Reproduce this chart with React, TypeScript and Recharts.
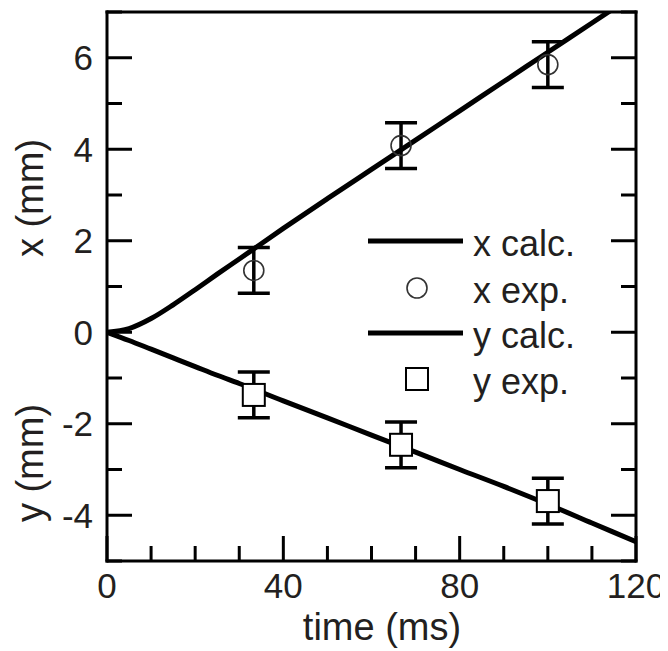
import {
  ComposedChart,
  Line,
  Scatter,
  ErrorBar,
  XAxis,
  YAxis,
  Legend,
  Label
} from 'recharts';

// calculated curves
const tCalc = [0, 5, 10, 15, 20, 25, 30, 40, 50, 60, 70, 80, 90, 100, 110, 120];
const xCalc = [0, 0.08, 0.3, 0.6, 0.93, 1.27, 1.6, 2.27, 2.92, 3.56, 4.2, 4.84, 5.48, 6.12, 6.76, 7.4];
const yCalc = [0, -0.18, -0.37, -0.56, -0.75, -0.94, -1.12, -1.5, -1.87, -2.25, -2.62, -3.0, -3.37, -3.76, -4.17, -4.58];

// measured points (error +/- 0.5 mm)
const tExp = [33.3, 66.7, 100];
const xExp = [1.35, 4.08, 5.85];
const yExp = [-1.37, -2.46, -3.69];
const expErr = [0.5, 0.5, 0.5];

const xTicks = [0, 10, 20, 30, 40, 50, 60, 70, 80, 90, 100, 110, 120];
const xLabels = [0, 40, 80, 120];
const yTicks = [-5, -4, -3, -2, -1, 0, 1, 2, 3, 4, 5, 6, 7];
const yLabels = [-4, -2, 0, 2, 4, 6];

const legendItems = ['x calc.', 'x exp.', 'y calc.', 'y exp.'];

const xCalcData = tCalc.map((t, i) => ({ t, v: xCalc[i] }));
const yCalcData = tCalc.map((t, i) => ({ t, v: yCalc[i] }));
const xExpData = tExp.map((t, i) => ({ t, v: xExp[i], err: expErr[i] }));
const yExpData = tExp.map((t, i) => ({ t, v: yExp[i], err: expErr[i] }));

const FONT = '"Liberation Sans", Arial, Helvetica, sans-serif';
const TEXT = '#231f20';
const MAJOR = 25;
const MINOR = 15;
const TICK_FONT = 35;
const TITLE_FONT = 38;

const BottomTick = (props: any) => {
  const { x, y, payload } = props;
  const major = xLabels.includes(payload.value);
  return (
    <g>
      <line x1={x} x2={x} y1={y} y2={y - (major ? MAJOR : MINOR)} stroke="#000" strokeWidth={3} />
      {major && (
        <text x={x} y={y + 37} textAnchor="middle" fontSize={TICK_FONT} fontFamily={FONT} fill={TEXT}>
          {payload.value}
        </text>
      )}
    </g>
  );
};

const TopTick = (props: any) => {
  const { x, y, payload } = props;
  const major = xLabels.includes(payload.value);
  return <line x1={x} x2={x} y1={y} y2={y + (major ? MAJOR : MINOR)} stroke="#000" strokeWidth={3} />;
};

const LeftTick = (props: any) => {
  const { x, y, payload } = props;
  const major = yLabels.includes(payload.value);
  return (
    <g>
      <line x1={x} x2={x + (major ? MAJOR : MINOR)} y1={y} y2={y} stroke="#000" strokeWidth={3} />
      {major && (
        <text x={x - 14} y={y} dy="0.36em" textAnchor="end" fontSize={TICK_FONT} fontFamily={FONT} fill={TEXT}>
          {payload.value}
        </text>
      )}
    </g>
  );
};

const RightTick = (props: any) => {
  const { x, y, payload } = props;
  const major = yLabels.includes(payload.value);
  return <line x1={x} x2={x - (major ? MAJOR : MINOR)} y1={y} y2={y} stroke="#000" strokeWidth={3} />;
};

const YTitles = () => (
  <g fontSize={TITLE_FONT} fontFamily={FONT} fill={TEXT}>
    <text x={35} y={190} textAnchor="middle" transform="rotate(-90 35 190)">x (mm)</text>
    <text x={35} y={455} textAnchor="middle" transform="rotate(-90 35 455)">y (mm)</text>
  </g>
);

const XTitle = () => (
  <text x={374} y={632} textAnchor="middle" fontSize={TITLE_FONT} fontFamily={FONT} fill={TEXT}>
    time (ms)
  </text>
);

const CircleDot = (props: any) => (
  <circle cx={props.cx} cy={props.cy} r={10} fill="none" stroke="#333" strokeWidth={1.6} />
);

const SquareDot = (props: any) => (
  <rect x={props.cx - 11} y={props.cy - 11} width={22} height={22} fill="#fff" stroke="#000" strokeWidth={2} />
);

const rowY = [28, 75, 120, 166];

const LegendBox = () => (
  <svg width={280} height={200} style={{ overflow: 'visible' }}>
    {legendItems.map((label, i) => (
      <g key={label}>
        {i % 2 === 0 && <line x1={10} x2={105} y1={rowY[i]} y2={rowY[i]} stroke="#000" strokeWidth={5} />}
        {i === 1 && <circle cx={59} cy={rowY[i]} r={10} fill="none" stroke="#333" strokeWidth={1.6} />}
        {i === 3 && <rect x={48} y={rowY[i] - 11} width={22} height={22} fill="#fff" stroke="#000" strokeWidth={2} />}
        <text x={115} y={rowY[i] + 15} fontSize={36} fontFamily={FONT} fill={TEXT}>
          {label}
        </text>
      </g>
    ))}
  </svg>
);

const axisLine = { stroke: '#000', strokeWidth: 3, strokeLinecap: 'square' as const };

export default function App() {
  return (
    <ComposedChart width={660} height={643} margin={{ top: 0, right: 0, bottom: 0, left: 0 }}>
      <XAxis
        dataKey="t"
        type="number"
        domain={[0, 120]}
        ticks={xTicks}
        interval={0}
        allowDataOverflow
        height={90}
        tickSize={0}
        tickMargin={0}
        tickLine={false}
        axisLine={axisLine}
        tick={BottomTick}
      >
        <Label content={XTitle} />
      </XAxis>
      <XAxis
        xAxisId="top"
        orientation="top"
        type="number"
        domain={[0, 120]}
        ticks={xTicks}
        interval={0}
        allowDataOverflow
        height={4}
        tickSize={0}
        tickMargin={0}
        tickLine={false}
        axisLine={axisLine}
        tick={TopTick}
      />
      <YAxis
        type="number"
        domain={[-5, 7]}
        ticks={yTicks}
        interval={0}
        allowDataOverflow
        width={99}
        tickSize={0}
        tickMargin={0}
        tickLine={false}
        axisLine={axisLine}
        tick={LeftTick}
      >
        <Label content={YTitles} />
      </YAxis>
      <YAxis
        yAxisId="r"
        orientation="right"
        type="number"
        domain={[-5, 7]}
        ticks={yTicks}
        interval={0}
        allowDataOverflow
        width={32}
        tickSize={0}
        tickMargin={0}
        tickLine={false}
        axisLine={axisLine}
        tick={RightTick}
      />
      <Legend
        layout="vertical"
        align="center"
        verticalAlign="middle"
        content={LegendBox}
        wrapperStyle={{ left: 350, top: 205, width: 280, height: 200 }}
      />
      <Line data={xCalcData} dataKey="v" name="x calc." type="monotone" stroke="#000" strokeWidth={5} dot={false} isAnimationActive={false} />
      <Line data={yCalcData} dataKey="v" name="y calc." type="monotone" stroke="#000" strokeWidth={5} dot={false} isAnimationActive={false} />
      <Scatter data={xExpData} dataKey="v" name="x exp." shape={CircleDot} isAnimationActive={false}>
        <ErrorBar dataKey="err" direction="y" width={16} strokeWidth={3.5} stroke="#000" isAnimationActive={false} />
      </Scatter>
      <Scatter data={yExpData} dataKey="v" name="y exp." shape={SquareDot} isAnimationActive={false}>
        <ErrorBar dataKey="err" direction="y" width={16} strokeWidth={3.5} stroke="#000" isAnimationActive={false} />
      </Scatter>
    </ComposedChart>
  );
}
